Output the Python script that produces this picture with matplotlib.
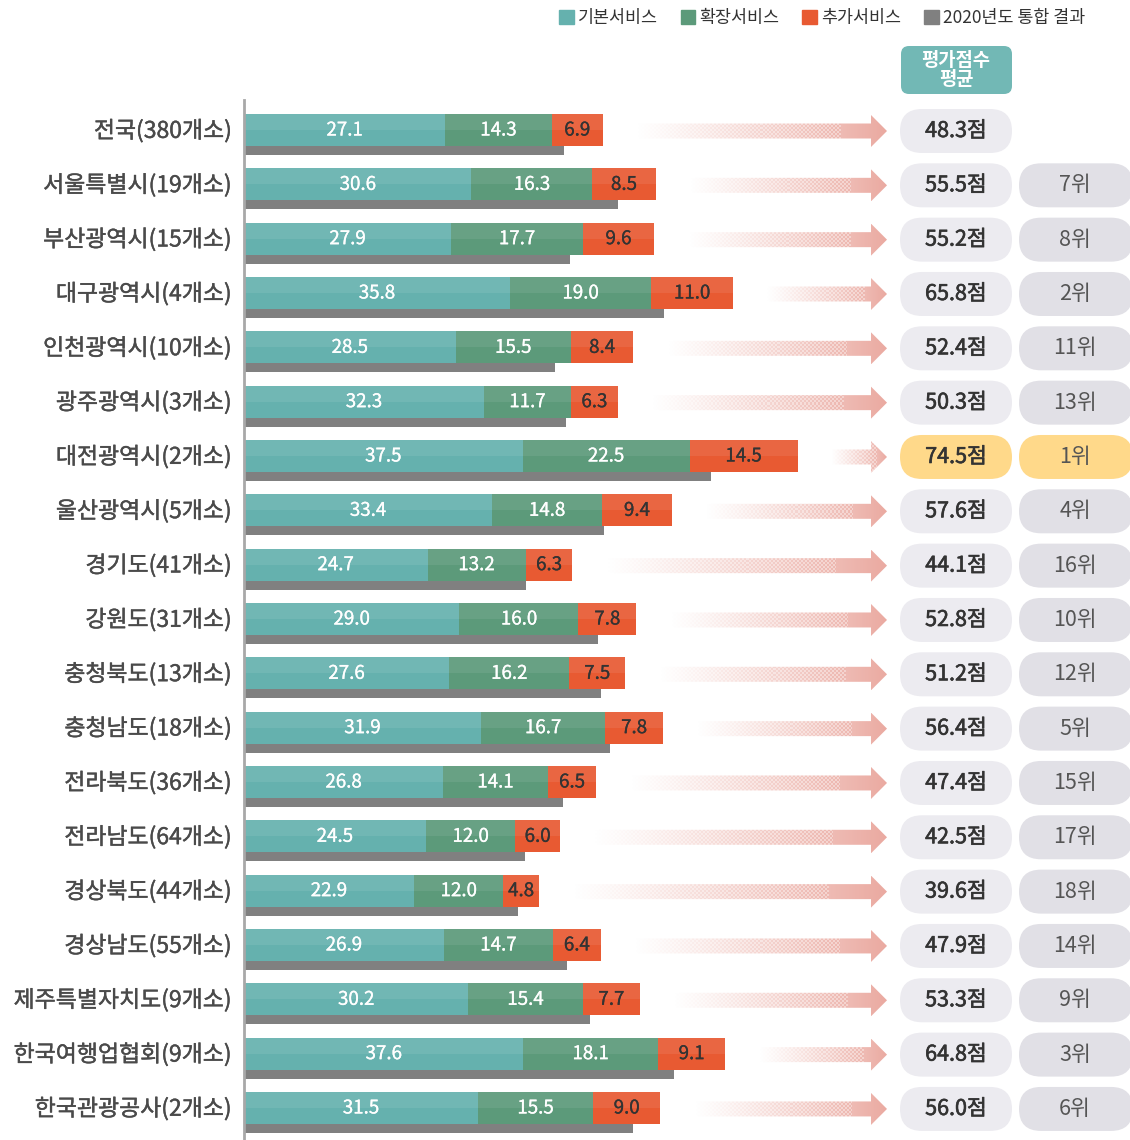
import numpy as np
import matplotlib.pyplot as plt
import matplotlib.patheffects as pe
from matplotlib.patches import FancyBboxPatch, Polygon, Patch

plt.rcParams['font.family'] = ['Noto Sans CJK KR', 'DejaVu Sans']

# =========================
# DATOS
# =========================
categories = ["전국(380개소)", "서울특별시(19개소)", "부산광역시(15개소)", "대구광역시(4개소)",
              "인천광역시(10개소)", "광주광역시(3개소)", "대전광역시(2개소)", "울산광역시(5개소)",
              "경기도(41개소)", "강원도(31개소)", "충청북도(13개소)", "충청남도(18개소)",
              "전라북도(36개소)", "전라남도(64개소)", "경상북도(44개소)", "경상남도(55개소)",
              "제주특별자치도(9개소)", "한국여행업협회(9개소)", "한국관광공사(2개소)"]
basic    = [27.1, 30.6, 27.9, 35.8, 28.5, 32.3, 37.5, 33.4, 24.7, 29.0, 27.6, 31.9, 26.8, 24.5, 22.9, 26.9, 30.2, 37.6, 31.5]
extended = [14.3, 16.3, 17.7, 19.0, 15.5, 11.7, 22.5, 14.8, 13.2, 16.0, 16.2, 16.7, 14.1, 12.0, 12.0, 14.7, 15.4, 18.1, 15.5]
extra    = [6.9, 8.5, 9.6, 11.0, 8.4, 6.3, 14.5, 9.4, 6.3, 7.8, 7.5, 7.8, 6.5, 6.0, 4.8, 6.4, 7.7, 9.1, 9.0]
prev2020 = [42.9, 50.2, 43.7, 56.3, 41.7, 43.2, 62.7, 48.2, 37.7, 47.4, 47.8, 49.1, 42.7, 37.6, 36.7, 43.3, 46.4, 57.7, 52.2]
scores   = [48.3, 55.5, 55.2, 65.8, 52.4, 50.3, 74.5, 57.6, 44.1, 52.8, 51.2, 56.4, 47.4, 42.5, 39.6, 47.9, 53.3, 64.8, 56.0]
ranks    = [None, 7, 8, 2, 11, 13, 1, 4, 16, 10, 12, 5, 15, 17, 18, 14, 9, 3, 6]

legend_labels = ["기본서비스", "확장서비스", "추가서비스", "2020년도 통합 결과"]

C_BASIC = "#65B1AE"
C_EXT   = "#5C9A7A"
C_EXTRA = "#E85A32"
C_PREV  = "#808080"
C_ARROW = np.array([232, 160, 150]) / 255
C_PILL  = "#ECEBF0"
C_RANK  = "#E1E0E6"
C_GOLD  = "#FFD98A"

# =========================
# ESCALAS (px por unidad)
# =========================
W, H = 1130, 1140
PX = 7.43       # px por punto
ROW = 54.33     # px por fila
X0, Y0 = 244, 131

fig = plt.figure(figsize=(W / 100, H / 100), dpi=100)
ax = fig.add_axes([0, 0, 1, 1])
ax.axis("off")

n = len(categories)
y = np.arange(n)
basic = np.array(basic); extended = np.array(extended); extra = np.array(extra)
totals = basic + extended + extra

bh = 32 / ROW
yc = y - 1 / ROW

# texto un poco mas grueso
def grueso(color, w=0.3):
    return [pe.withStroke(linewidth=w, foreground=color)]

# barras apiladas
ax.barh(yc, basic, height=bh, color=C_BASIC, zorder=3)
ax.barh(yc, extended, left=basic, height=bh, color=C_EXT, zorder=3)
ax.barh(yc, extra, left=basic + extended, height=bh, color=C_EXTRA, zorder=3)
# brillo en la mitad superior
ax.barh(yc - bh / 4, totals, height=bh / 2, color="white", alpha=0.08, zorder=4, lw=0)
# resultado 2020
ax.barh(y + 0.36, prev2020, left=0.2, height=9 / ROW, color=C_PREV, zorder=3)

# eje vertical
ax.plot([0, 0], [(100 - Y0) / ROW, (H - Y0) / ROW], color="#A8A8A8", lw=2, zorder=5)

for i in range(n):
    ax.text(-12 / PX, y[i], categories[i], ha="right", va="center", fontsize=16.5,
            color="#4A4A4A", path_effects=grueso("#4A4A4A", 0.3))
    ax.text(basic[i] / 2, yc[i], f"{basic[i]:.1f}", ha="center", va="center",
            fontsize=13.5, color="white", zorder=6, path_effects=grueso("white", 0.2))
    ax.text(basic[i] + extended[i] / 2, yc[i], f"{extended[i]:.1f}", ha="center", va="center",
            fontsize=13.5, color="white", zorder=6, path_effects=grueso("white", 0.2))
    ax.text(basic[i] + extended[i] + extra[i] / 2, yc[i], f"{extra[i]:.1f}", ha="center",
            va="center", fontsize=13.5, color="#333333", zorder=6,
            path_effects=grueso("#333333", 0.2))

    # flecha degradada
    x_start = totals[i] + 4.5
    x_tip = (887 - X0) / PX
    x_head = (871 - X0) / PX
    bhh = 7.5 / ROW
    hhh = 16 / ROW
    poly = Polygon([(x_start, y[i] - bhh), (x_head, y[i] - bhh), (x_head, y[i] - hhh),
                    (x_tip, y[i]), (x_head, y[i] + hhh), (x_head, y[i] + bhh),
                    (x_start, y[i] + bhh)], closed=True, fc="none", ec="none")
    ax.add_patch(poly)
    ncol = int((x_tip - x_start) * PX)
    grad = np.linspace(0, 1, ncol) ** 1.1
    rows = 32
    img = np.zeros((rows, ncol, 4))
    img[..., :3] = C_ARROW
    jj, ii = np.meshgrid(np.arange(ncol), np.arange(rows))
    checker = ((ii // 2 + jj // 2) % 2).astype(float)
    a = grad[None, :] * (0.6 + 0.4 * checker)
    a = np.where(grad[None, :] > 0.8, grad[None, :] * 0.95, a)
    img[..., 3] = np.clip(a * 0.95, 0, 1)
    im = ax.imshow(img, extent=(x_start, x_tip, y[i] + hhh, y[i] - hhh), aspect="auto",
                   interpolation="nearest", zorder=2)
    im.set_clip_path(poly)

    # píldoras
    gold = ranks[i] == 1
    asp = PX / ROW
    ph = 44 / ROW
    r = 22 / PX
    p1 = FancyBboxPatch(((900 - X0) / PX, y[i] - ph / 2), 112 / PX, ph,
                        boxstyle=f"round,pad=0,rounding_size={r}", mutation_aspect=asp,
                        fc=C_GOLD if gold else C_PILL, ec="none", zorder=3)
    ax.add_patch(p1)
    ax.text((956 - X0) / PX, y[i], f"{scores[i]:.1f}점", ha="center", va="center",
            fontsize=15.5, color="#333333", zorder=6, path_effects=grueso("#333333", 0.45))
    if ranks[i] is not None:
        p2 = FancyBboxPatch(((1019 - X0) / PX, y[i] - ph / 2), 114 / PX, ph,
                            boxstyle=f"round,pad=0,rounding_size={r}", mutation_aspect=asp,
                            fc=C_GOLD if gold else C_RANK, ec="none", zorder=3)
        ax.add_patch(p2)
        ax.text((1075 - X0) / PX, y[i], f"{ranks[i]}위", ha="center", va="center",
                fontsize=15.5, color="#555555", zorder=6)

# encabezado
hy0, hy1 = (46 - Y0) / ROW, (94 - Y0) / ROW
hdr = FancyBboxPatch(((901 - X0) / PX, hy0), 111 / PX, hy1 - hy0,
                     boxstyle=f"round,pad=0,rounding_size={8 / PX}", mutation_aspect=PX / ROW,
                     fc="#72B8B5", ec="none", zorder=3)
ax.add_patch(hdr)
ax.text((956 - X0) / PX, (hy0 + hy1) / 2, "평가점수\n평균", ha="center", va="center",
        fontsize=13.5, color="white", fontweight="bold", linespacing=1.05, zorder=6)

# leyenda
handles = [Patch(color=c) for c in [C_BASIC, C_EXT, C_EXTRA, C_PREV]]
ax.legend(handles, legend_labels, ncol=4, loc="upper right", bbox_to_anchor=(1094 / W, 1.0),
          frameon=False, fontsize=12.5, handlelength=0.85, handleheight=0.85,
          handletextpad=0.25, columnspacing=1.3, borderaxespad=0.1, labelcolor="#333333")

ax.set_xlim(-X0 / PX, (W - X0) / PX)
ax.set_ylim((H - Y0) / ROW, -Y0 / ROW)

fig.savefig("out.png", dpi=100)
